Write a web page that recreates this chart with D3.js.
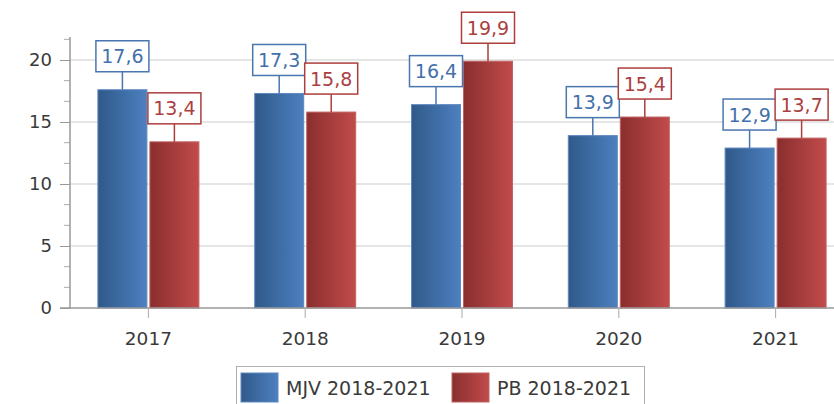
<!DOCTYPE html>
<html>
<head>
<meta charset="utf-8">
<script src="https://cdn.jsdelivr.net/npm/d3@7"></script>
<style>
  body { margin: 0; background: #fff; }
  svg { font-family: "DejaVu Sans", Verdana, sans-serif; }
</style>
</head>
<body>
<div id="chart"></div>
<script>
let years = ["2017", "2018", "2019", "2020", "2021"]
let mjv = [17.6, 17.3, 16.4, 13.9, 12.9]
let pb = [13.4, 15.8, 19.9, 15.4, 13.7]
let seriesNames = ["MJV 2018-2021", "PB 2018-2021"]
let yTicks = [0, 5, 10, 15, 20]

let width = 834
let height = 404

let svg = d3.select("#chart")
            .append("svg")
            .attr("width", width)
            .attr("height", height)

let defs = svg.append("defs")
function grad(id, c1, c2) {
    let g = defs.append("linearGradient").attr("id", id)
        .attr("x1", "0%").attr("x2", "100%").attr("y1", "0%").attr("y2", "0%")
    g.append("stop").attr("offset", "0%").attr("stop-color", c1)
    g.append("stop").attr("offset", "100%").attr("stop-color", c2)
}
grad("gBlue", "#2f5989", "#4d80c0")
grad("gRed", "#8a2e2e", "#c24b4b")

let series = [
    { name: seriesNames[0], values: mjv, fill: "url(#gBlue)", stroke: "#4a76b0", text: "#4370ab" },
    { name: seriesNames[1], values: pb, fill: "url(#gRed)", stroke: "#ad3e3e", text: "#ab3f3f" }
]

let left = 70, zeroY = 308
let xScale = d3.scaleBand().domain(years).range([left, left + 5 * 156.8])
let yScale = d3.scaleLinear().domain([0, 20]).range([zeroY, 60])
let topY = yScale(21.85)

// grid lines
svg.append("g").selectAll("line")
    .data(yTicks.filter(d => d > 0))
    .enter().append("line")
    .attr("x1", left).attr("x2", width)
    .attr("y1", d => yScale(d)).attr("y2", d => yScale(d))
    .attr("stroke", "#dcdcdc").attr("stroke-width", 1.5)

// y axis
let yAxis = d3.axisLeft(yScale).tickValues(yTicks).tickSize(10).tickPadding(8)
let gy = svg.append("g")
    .attr("transform", "translate(" + left + ",0)")
    .call(yAxis)
gy.select(".domain").remove()
gy.selectAll("line").attr("stroke", "#999")
gy.selectAll("text").attr("font-size", 18).attr("fill", "#3a3a3a")
    .attr("font-family", "DejaVu Sans, sans-serif")
// minor ticks
let minor = d3.range(0, 21.7, 5 / 3).filter(d => Math.abs(d / 5 - Math.round(d / 5)) > 0.01)
svg.append("g").selectAll("line").data(minor).enter().append("line")
    .attr("x1", left - 6).attr("x2", left)
    .attr("y1", d => yScale(d)).attr("y2", d => yScale(d))
    .attr("stroke", "#aaa")
svg.append("line")
    .attr("x1", left).attr("x2", left).attr("y1", topY).attr("y2", zeroY)
    .attr("stroke", "#999").attr("stroke-width", 1.5)

// bars
let bw = 49, gap = 3
series.forEach(function(s, i) {
    let g = svg.append("g")
    g.selectAll("rect").data(s.values).enter().append("rect")
        .attr("x", (d, j) => xScale(years[j]) + xScale.bandwidth() / 2 + (i === 0 ? -gap / 2 - bw : gap / 2))
        .attr("y", d => yScale(d))
        .attr("width", bw)
        .attr("height", d => zeroY - yScale(d))
        .attr("fill", s.fill)
        .attr("stroke", i === 0 ? "#5e88c0" : "#c06262")
        .attr("stroke-width", 1)
})

// x axis
svg.append("line")
    .attr("x1", left - 10).attr("x2", width).attr("y1", zeroY).attr("y2", zeroY)
    .attr("stroke", "#999").attr("stroke-width", 1.5)
let xAxis = d3.axisBottom(xScale).tickSize(10).tickPadding(14)
let gx = svg.append("g")
    .attr("transform", "translate(0," + zeroY + ")")
    .call(xAxis)
gx.select(".domain").remove()
gx.selectAll("line").attr("stroke", "#aaa")
gx.selectAll("text").attr("font-size", 18.5).attr("fill", "#3a3a3a")
    .attr("font-family", "DejaVu Sans, sans-serif")

// data labels
series.forEach(function(s, i) {
    s.values.forEach(function(v, j) {
        let cx = xScale(years[j]) + xScale.bandwidth() / 2 + (i === 0 ? -gap / 2 - bw / 2 : gap / 2 + bw / 2)
        let barTop = yScale(v)
        let boxH = 31, boxW = 53
        let boxBottom = barTop - 18
        let txt = d3.format(".1f")(v).replace(".", ",")
        svg.append("line")
            .attr("x1", cx).attr("x2", cx).attr("y1", boxBottom).attr("y2", barTop)
            .attr("stroke", s.stroke).attr("stroke-width", 1.5)
        svg.append("rect")
            .attr("x", cx - boxW / 2).attr("y", boxBottom - boxH)
            .attr("width", boxW).attr("height", boxH)
            .attr("fill", "#fff").attr("stroke", s.stroke).attr("stroke-width", 1.5)
        svg.append("text")
            .attr("x", cx).attr("y", boxBottom - boxH / 2 + 7)
            .attr("text-anchor", "middle")
            .attr("font-size", 19).attr("fill", s.text)
            .text(txt)
    })
})

// legend
let lg = svg.append("g")
lg.append("rect").attr("x", 236.5).attr("y", 366.5).attr("width", 408).attr("height", 50)
    .attr("fill", "#fff").attr("stroke", "#b0b0b0")
let legendX = [241, 452]
series.forEach(function(s, i) {
    lg.append("rect").attr("x", legendX[i]).attr("y", 373).attr("width", 37).attr("height", 29)
        .attr("fill", s.fill).attr("stroke", i === 0 ? "#5e88c0" : "#c06262")
    lg.append("text").attr("x", legendX[i] + 45).attr("y", 395)
        .attr("font-size", 19).attr("fill", "#3a3a3a").text(s.name)
})
</script>
</body>
</html>
